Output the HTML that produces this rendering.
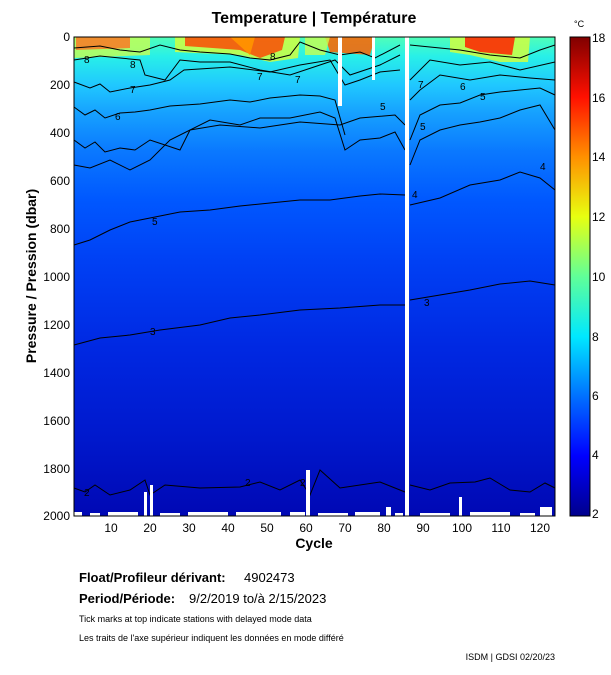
<!DOCTYPE html>
<html><head><meta charset="utf-8"><style>
body{margin:0;background:#fff;}
svg{display:block;font-family:"Liberation Sans",sans-serif;}
</style></head><body>
<svg width="611" height="675" viewBox="0 0 611 675" xmlns="http://www.w3.org/2000/svg">
<defs>
<linearGradient id="bg" x1="0" y1="37" x2="0" y2="516" gradientUnits="userSpaceOnUse">
<stop offset="0" stop-color="#50ffb8"/>
<stop offset="0.04" stop-color="#28f0e8"/>
<stop offset="0.10" stop-color="#20c8ff"/>
<stop offset="0.16" stop-color="#16a0ff"/>
<stop offset="0.24" stop-color="#0a78ff"/>
<stop offset="0.34" stop-color="#0058ff"/>
<stop offset="0.47" stop-color="#0040f4"/>
<stop offset="0.65" stop-color="#0028e2"/>
<stop offset="0.84" stop-color="#0018cc"/>
<stop offset="1" stop-color="#0008b4"/>
</linearGradient>
<linearGradient id="cb" x1="0" y1="516" x2="0" y2="37" gradientUnits="userSpaceOnUse">
<stop offset="0" stop-color="#00008c"/>
<stop offset="0.125" stop-color="#0000ff"/>
<stop offset="0.25" stop-color="#0070ff"/>
<stop offset="0.375" stop-color="#00e8ff"/>
<stop offset="0.5" stop-color="#60ff98"/>
<stop offset="0.625" stop-color="#e8ff10"/>
<stop offset="0.75" stop-color="#ff9000"/>
<stop offset="0.875" stop-color="#ff1000"/>
<stop offset="1" stop-color="#800000"/>
</linearGradient>
</defs>
<text x="314" y="23" font-size="16" font-weight="bold" text-anchor="middle">Temperature | Température</text>
<rect x="74" y="37" width="481" height="479" fill="url(#bg)"/>
<path d="M74 37 H150 L150 55 L74 58 Z" fill="#c8ff50" opacity="0.8"/>
<path d="M76 37 H130 L130 48 L76 50 Z" fill="#ff7020" opacity="0.8"/>
<path d="M175 37 H300 L298 58 L270 62 L240 55 L175 52 Z" fill="#d0ff40" opacity="0.85"/>
<path d="M185 37 H285 L282 50 L260 58 L240 50 L185 46 Z" fill="#ff4000" opacity="0.8"/>
<path d="M230 37 H255 L250 55 Z" fill="#ff9000"/>
<path d="M325 37 H375 L370 55 L330 52 Z" fill="#ff6000" opacity="0.85"/>
<path d="M305 37 H330 L325 55 L305 55 Z" fill="#c8ff50" opacity="0.8"/>
<path d="M450 37 H530 L528 62 L500 62 L470 55 L450 52 Z" fill="#d0ff40" opacity="0.85"/>
<path d="M465 37 H515 L512 55 L480 52 L465 47 Z" fill="#ff2000" opacity="0.85"/>
<g fill="none" stroke="#000" stroke-width="1">
<polyline points="74,48 100,46 120,50 140,52 160,45 180,50 200,52 230,54 250,58 270,60 290,55 300,42 320,50 340,55 360,52 375,58 400,45"/>
<polyline points="410,45 440,48 460,50 490,55 520,58 540,50 555,45"/>
<polyline points="74,60 100,56 120,58 140,60 145,75 165,80 180,60 200,62 230,62 260,70 290,75 320,65 335,60 350,75 380,65 400,55"/>
<polyline points="410,80 430,60 460,65 490,62 520,70 555,62"/>
<polyline points="74,82 90,88 100,84 110,92 130,88 150,85 170,80 184,70 230,67 270,72 300,65 330,60 345,85 360,80 380,72 400,70"/>
<polyline points="410,100 420,90 440,75 470,80 500,75 530,78 555,80"/>
<polyline points="74,107 85,115 95,110 105,118 120,113 135,112 150,110 170,106 200,104 230,100 250,102 270,98 300,95 320,96 335,100 345,135"/>
<polyline points="410,140 420,115 440,105 460,103 480,95 500,92 520,90 540,88 555,95"/>
<polyline points="74,140 85,148 95,142 105,152 120,148 135,150 150,140 165,145 180,150 190,130 210,120 240,125 260,118 290,118 320,112 335,118 345,150 360,140 380,138 395,132 405,150"/>
<polyline points="410,165 420,140 440,130 460,125 480,122 500,118 520,110 540,105 555,130"/>
<polyline points="74,165 90,168 110,160 130,170 150,160 170,140 190,130 220,125 260,128 300,122 340,125 360,118 395,115 405,125"/>
<polyline points="74,245 90,240 110,230 130,222 150,218 180,212 210,210 240,206 270,203 300,200 330,200 360,196 380,194 405,195"/>
<polyline points="410,205 440,198 470,185 500,180 520,172 540,178 555,190"/>
<polyline points="74,345 100,338 130,335 160,330 200,325 230,318 260,315 300,310 340,308 380,305 405,305"/>
<polyline points="410,300 440,295 470,290 500,284 530,281 555,285"/>
<polyline points="74,488 85,492 95,485 110,495 130,490 145,480 150,495 165,485 200,488 240,487 260,482 280,490 300,480 310,495 320,470 340,488 380,482 405,492"/>
<polyline points="410,485 430,490 450,483 475,482 490,478 510,490 530,492 545,483 555,488"/>
</g>
<g font-size="10" fill="#000">
<text x="84" y="63">8</text><text x="130" y="68">8</text><text x="270" y="60">8</text>
<text x="130" y="93">7</text><text x="295" y="83">7</text><text x="418" y="88">7</text>
<text x="115" y="120">6</text><text x="257" y="80">7</text><text x="460" y="90">6</text>
<text x="380" y="110">5</text><text x="420" y="130">5</text><text x="480" y="100">5</text>
<text x="152" y="225">5</text><text x="412" y="198">4</text><text x="540" y="170">4</text>
<text x="150" y="335">3</text><text x="424" y="306">3</text>
<text x="84" y="496">2</text><text x="300" y="486">2</text><text x="245" y="486">2</text>
</g>
<rect x="338" y="37" width="4" height="69" fill="#fff"/>
<rect x="372" y="37" width="3" height="43" fill="#fff"/>
<rect x="405" y="37" width="4" height="479" fill="#fff"/>
<g fill="#fff">
<rect x="74" y="512" width="8" height="4"/><rect x="90" y="513" width="10" height="3"/>
<rect x="108" y="512" width="30" height="4"/><rect x="160" y="513" width="20" height="3"/>
<rect x="188" y="512" width="40" height="4"/><rect x="236" y="512" width="45" height="4"/>
<rect x="290" y="512" width="15" height="4"/><rect x="318" y="513" width="30" height="3"/>
<rect x="355" y="512" width="25" height="4"/><rect x="395" y="513" width="8" height="3"/>
<rect x="420" y="513" width="30" height="3"/><rect x="470" y="512" width="40" height="4"/>
<rect x="520" y="513" width="15" height="3"/>
<rect x="144" y="492" width="3" height="24"/>
<rect x="150" y="485" width="3" height="31"/>
<rect x="306" y="470" width="4" height="46"/>
<rect x="459" y="497" width="3" height="19"/>
<rect x="386" y="507" width="5" height="9"/>
<rect x="540" y="507" width="12" height="9"/>
</g>
<rect x="74" y="37" width="481" height="479" fill="none" stroke="#000" stroke-width="1"/>
<g font-size="12" fill="#000" text-anchor="end">
<text x="70" y="41">0</text><text x="70" y="89">200</text><text x="70" y="137">400</text>
<text x="70" y="185">600</text><text x="70" y="233">800</text><text x="70" y="281">1000</text>
<text x="70" y="329">1200</text><text x="70" y="377">1400</text><text x="70" y="425">1600</text>
<text x="70" y="473">1800</text><text x="70" y="520">2000</text>
</g>
<g font-size="12" fill="#000" text-anchor="middle">
<text x="111" y="532">10</text><text x="150" y="532">20</text><text x="189" y="532">30</text>
<text x="228" y="532">40</text><text x="267" y="532">50</text><text x="306" y="532">60</text>
<text x="345" y="532">70</text><text x="384" y="532">80</text><text x="423" y="532">90</text>
<text x="462" y="532">100</text><text x="501" y="532">110</text><text x="540" y="532">120</text>
</g>
<text x="314" y="548" font-size="14" font-weight="bold" text-anchor="middle">Cycle</text>
<text transform="translate(36,276) rotate(-90)" font-size="14" font-weight="bold" text-anchor="middle">Pressure / Pression (dbar)</text>
<rect x="570" y="37" width="20" height="479" fill="url(#cb)" stroke="#000"/>
<text x="574" y="27" font-size="9">°C</text>
<g font-size="12" text-anchor="start">
<text x="592" y="42">18</text><text x="592" y="102">16</text><text x="592" y="161">14</text>
<text x="592" y="221">12</text><text x="592" y="281">10</text><text x="592" y="341">8</text>
<text x="592" y="400">6</text><text x="592" y="459">4</text><text x="592" y="518">2</text>
</g>
<text x="79" y="582" font-size="13" font-weight="bold">Float/Profileur dérivant:</text>
<text x="244" y="582" font-size="13">4902473</text>
<text x="79" y="603" font-size="13" font-weight="bold">Period/Période:</text>
<text x="189" y="603" font-size="13">9/2/2019  to/à  2/15/2023</text>
<text x="79" y="622" font-size="9">Tick marks at top indicate stations with delayed mode data</text>
<text x="79" y="641" font-size="9">Les traits de l'axe supérieur indiquent les données en mode différé</text>
<text x="555" y="660" font-size="9" text-anchor="end">ISDM | GDSI 02/20/23</text>
</svg>
</body></html>
